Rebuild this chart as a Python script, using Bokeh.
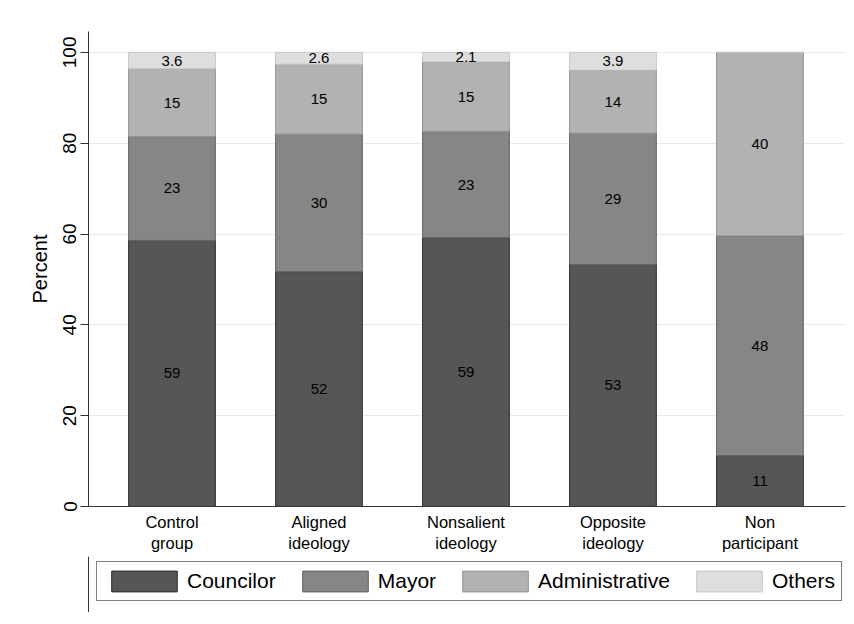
from bokeh.plotting import figure
from bokeh.layouts import column
from bokeh.models import Range1d, FixedTicker, Legend, LegendItem, ColumnDataSource
from bokeh.core.properties import value
from bokeh.embed import file_html
from bokeh.resources import INLINE

groups = ["Control\ngroup", "Aligned\nideology", "Nonsalient\nideology",
          "Opposite\nideology", "Non\nparticipant"]
series = ["Councilor", "Mayor", "Administrative", "Others"]
councilor = [58.6, 51.7, 59.2, 53.3, 11.2]
mayor = [22.9, 30.3, 23.4, 28.9, 48.4]
administrative = [14.9, 15.4, 15.3, 13.9, 40.4]
others = [3.6, 2.6, 2.1, 3.9, 0.0]
yticks = [0, 20, 40, 60, 80, 100]

fills = ["#565656", "#868686", "#b2b2b2", "#dedede"]
lines = ["#2c2c2c", "#626262", "#929292", "#c6c6c6"]
FONT = "Liberation Sans"

xs = list(range(len(groups)))
values = [councilor, mayor, administrative, others]
source = ColumnDataSource(dict(x=xs, **{s: v for s, v in zip(series, values)}))

p = figure(width=846, height=556, output_backend="svg",
           toolbar_location=None, x_range=Range1d(-0.568, 4.582),
           y_range=Range1d(0, 104.6), min_border_left=88, min_border_top=31,
           min_border_right=1, min_border_bottom=50)
p.outline_line_color = None
p.background_fill_color = "white"
p.border_fill_color = "white"

rs = p.vbar_stack(series, x="x", width=0.59, source=source,
                  fill_color=fills, line_color=lines, line_width=1)

# segment labels
lx, ly, lt = [], [], []
bottoms = [0.0] * len(xs)
for vals in values:
    for i, v in enumerate(vals):
        if v > 0:
            lx.append(xs[i])
            ly.append(bottoms[i] + v / 2)
            lt.append(f"{v:.2g}")
        bottoms[i] += v
p.text(x=lx, y=ly, text=lt, text_font=value(FONT), text_font_size="15px",
       text_align="center", text_baseline="middle", text_color="black")

# grid
p.xgrid.grid_line_color = None
p.ygrid.grid_line_color = "#e4ecef"
p.ygrid.grid_line_width = 1
p.ygrid.ticker = FixedTicker(ticks=yticks)

# y axis
ya = p.yaxis[0]
ya.ticker = FixedTicker(ticks=yticks)
ya.major_label_orientation = "vertical"
ya.major_label_text_font = FONT
ya.major_label_text_font_size = "19px"
ya.major_label_text_color = "black"
ya.major_tick_out = 8
ya.major_tick_in = 0
ya.minor_tick_line_color = None
ya.major_label_standoff = 4
ya.axis_line_color = "#333333"
ya.major_tick_line_color = "#333333"
ya.axis_label = "Percent"
ya.axis_label_text_font = FONT
ya.axis_label_text_font_size = "20px"
ya.axis_label_text_font_style = "normal"
ya.axis_label_text_color = "black"
ya.axis_label_standoff = 10

# x axis
xa = p.xaxis[0]
xa.ticker = FixedTicker(ticks=xs)
xa.major_label_overrides = {i: g for i, g in zip(xs, groups)}
xa.major_label_text_font = FONT
xa.major_label_text_font_size = "16.5px"
xa.major_label_text_color = "black"
xa.major_tick_line_color = None
xa.minor_tick_line_color = None
xa.major_tick_out = 0
xa.major_label_standoff = 6
xa.axis_line_color = "#333333"

# legend strip: a second figure whose (out-of-view) bars only supply the legend keys
p2 = figure(width=846, height=56, output_backend="svg", toolbar_location=None,
            x_axis_type=None, y_axis_type=None,
            x_range=Range1d(len(xs) + 10, len(xs) + 11),
            y_range=Range1d(0, 1), min_border=0)
p2.outline_line_color = None
p2.grid.visible = False
p2.background_fill_color = "white"
p2.border_fill_color = "white"
rs2 = p2.vbar_stack(series, x="x", width=0.59, source=source,
                    fill_color=fills, line_color=lines, line_width=1)

legend = Legend(items=[LegendItem(label=s, renderers=[r]) for s, r in zip(series, rs2)],
                orientation="horizontal", location=(8, 11))
legend.label_text_font = FONT
legend.label_text_font_size = "21px"
legend.label_text_color = "black"
legend.glyph_width = 82
legend.glyph_height = 26
legend.label_height = 26
legend.label_standoff = 2
legend.spacing = 18
legend.padding = 6
legend.margin = 0
legend.border_line_color = "black"
legend.border_line_width = 1
legend.background_fill_color = "white"
legend.background_fill_alpha = 1
p2.add_layout(legend, "center")

layout = column(p, p2, spacing=0)
open("out.html", "w").write(file_html(layout, INLINE))
